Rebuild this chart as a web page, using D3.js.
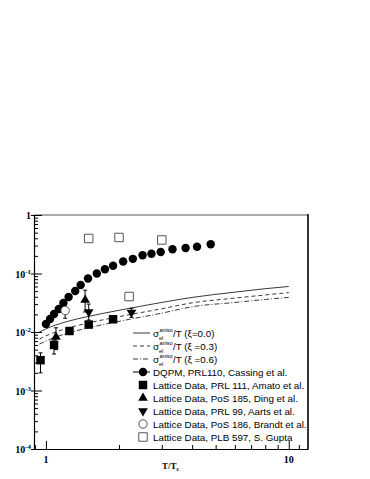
<!DOCTYPE html>
<html>
<head>
<meta charset="utf-8">
<script src="https://cdn.jsdelivr.net/npm/d3@7"></script>
<style>
  body { margin: 0; background: #fff; }
  .tick line { stroke: #000; }
  .axis path { stroke: #000; }
</style>
</head>
<body>
<div class="chart"></div>
<script>
// theory curves sigma_el^aniso / T
const curveT = [0.94, 1.0, 1.2, 1.5, 2.0, 3.0, 4.0, 6.0, 8.0, 10.0];
const xi00 = [0.0100, 0.0113, 0.0148, 0.0185, 0.0235, 0.0320, 0.0390, 0.0480, 0.0550, 0.0600];
const xi03 = [0.0076, 0.0086, 0.0113, 0.0143, 0.0183, 0.0250, 0.0315, 0.0380, 0.0430, 0.0470];
const xi06 = [0.0062, 0.0070, 0.0093, 0.0118, 0.0152, 0.0210, 0.0270, 0.0320, 0.0360, 0.0390];

// DQPM, Cassing et al.
const dqpmT = [1.00, 1.04, 1.08, 1.13, 1.18, 1.24, 1.32, 1.39, 1.49, 1.62, 1.75,
               1.89, 2.08, 2.28, 2.50, 2.72, 2.97, 3.32, 3.76, 4.19, 4.77];
const dqpmS = [0.0137, 0.0167, 0.0203, 0.0247, 0.0313, 0.0397, 0.0502, 0.0636, 0.0822, 0.100, 0.118,
               0.136, 0.160, 0.178, 0.205, 0.218, 0.233, 0.259, 0.273, 0.287, 0.316];

// lattice data
const amatoT = [0.95, 1.08, 1.25, 1.50, 1.89];
const amatoS = [0.0033, 0.0060, 0.0104, 0.0134, 0.0165];
const amatoLo = [0.0020, 0.0042, 0.0095, 0.0124, 0.0153];
const amatoHi = [0.0044, 0.0073, 0.0113, 0.0145, 0.0178];

const dingT = [1.10, 1.45];
const dingS = [0.0082, 0.0352];
const dingLo = [0.0050, 0.0220];
const dingHi = [0.0118, 0.0520];

const aartsT = [1.50, 2.25];
const aartsS = [0.0220, 0.0215];
const aartsLo = [0.0160, 0.0178];
const aartsHi = [0.0300, 0.0255];

const brandtT = [1.20];
const brandtS = [0.0233];
const brandtLo = [0.0172];
const brandtHi = [0.0233];

const guptaT = [1.50, 2.00, 2.20, 3.00];
const guptaS = [0.397, 0.413, 0.0404, 0.374];
const guptaLo = [0.397, 0.413, 0.0345, 0.374];
const guptaHi = [0.397, 0.413, 0.0404, 0.374];

const yMajor = [1e-4, 1e-3, 1e-2, 1e-1, 1];
const yLabels = [["10", "-4"], ["10", "-3"], ["10", "-2"], ["10", "-1"], ["1", ""]];
const xMajor = [1, 10];
const xLabels = ["1", "10"];

const legendText = [
  "DQPM, PRL110, Cassing et al.",
  "Lattice Data, PRL 111, Amato et al.",
  "Lattice Data, PoS 185, Ding et al.",
  "Lattice Data, PRL 99, Aarts et al.",
  "Lattice Data, PoS 186, Brandt et al.",
  "Lattice Data, PLB 597, S. Gupta"
];
const curveLegend = ["/T (\u03BE=0.0)", "/T (\u03BE =0.3)", "/T (\u03BE =0.6)"];

const W = 370, H = 479;
const margin = { left: 34, right: 308, top: 215, bottom: 449 };

const svg = d3.select(".chart").append("svg")
    .attr("width", W)
    .attr("height", H);

const x = d3.scaleLog().domain([0.893, 12]).range([margin.left, margin.right]);
const y = d3.scaleLog().domain([1e-4, 1]).range([margin.bottom, margin.top]);

// frame (top and right)
svg.append("line").attr("x1", margin.left).attr("x2", margin.right)
    .attr("y1", margin.top).attr("y2", margin.top)
    .attr("stroke", "#aaa").attr("stroke-width", 2);
svg.append("line").attr("x1", margin.right).attr("x2", margin.right)
    .attr("y1", margin.top - 1).attr("y2", margin.bottom)
    .attr("stroke", "#333").attr("stroke-width", 2);

// minor tick values
const yMinor = [];
for (let e = -4; e < 0; e++) for (let m = 2; m <= 9; m++) yMinor.push(m * Math.pow(10, e));
const xMinor = [0.9];
for (let m = 2; m <= 9; m++) xMinor.push(m);
xMinor.push(11);

// left axis, ticks pointing inside
svg.append("g")
    .attr("class", "axis y-axis")
    .attr("transform", `translate(${margin.left},0)`)
    .call(d3.axisRight(y).tickValues(yMinor).tickSize(4).tickSizeOuter(0).tickFormat(""));
svg.append("g")
    .attr("transform", `translate(${margin.left},0)`)
    .call(d3.axisRight(y).tickValues(yMajor).tickSize(8).tickSizeOuter(0).tickFormat(""))
    .call(g => g.select(".domain").remove());
svg.append("g")
    .attr("transform", `translate(${margin.left},0)`)
    .call(d3.axisLeft(y).tickValues(yMajor).tickSize(3).tickSizeOuter(0).tickFormat(""))
    .call(g => g.select(".domain").remove());

// bottom axis, ticks pointing up
svg.append("g")
    .attr("class", "axis x-axis")
    .attr("transform", `translate(0,${margin.bottom})`)
    .call(d3.axisTop(x).tickValues(xMinor).tickSize(4).tickSizeOuter(0).tickFormat(""));
svg.append("g")
    .attr("transform", `translate(0,${margin.bottom})`)
    .call(d3.axisTop(x).tickValues(xMajor).tickSize(8).tickSizeOuter(0).tickFormat(""))
    .call(g => g.select(".domain").remove());

svg.selectAll(".domain").attr("stroke", "#000").attr("stroke-width", 1.2);

// tick labels
const serif = "'Liberation Serif', 'DejaVu Serif', serif";
const yl = svg.append("g").attr("font-family", serif).attr("font-weight", "bold").attr("font-size", 10);
yMajor.forEach((v, i) => {
  const t = yl.append("text")
      .attr("x", margin.left - 3)
      .attr("y", y(v) + 4)
      .attr("text-anchor", "end");
  t.append("tspan").text(yLabels[i][0]);
  if (yLabels[i][1]) {
    t.append("tspan").attr("dy", -4).attr("font-size", 7).text(yLabels[i][1]);
  }
});
svg.append("g").attr("font-family", serif).attr("font-weight", "bold").attr("font-size", 10)
  .selectAll("text").data(xMajor).join("text")
    .attr("x", d => x(d))
    .attr("y", margin.bottom + 14)
    .attr("text-anchor", "middle")
    .text((d, i) => xLabels[i]);

// axis title
const xt = svg.append("text")
    .attr("x", 162).attr("y", 469)
    .attr("font-family", serif).attr("font-weight", "bold").attr("font-size", 9);
xt.append("tspan").text("T/T");
xt.append("tspan").attr("dy", 2).attr("font-size", 6).text("c");

// theory curves
const line = d3.line().x(d => x(d[0])).y(d => y(d[1])).curve(d3.curveMonotoneX);
const curveDefs = [
  { v: xi00, dash: null },
  { v: xi03, dash: "4,3" },
  { v: xi06, dash: "5,2,1,2" }
];
curveDefs.forEach(c => {
  svg.append("path")
      .datum(curveT.map((t, i) => [t, c.v[i]]))
      .attr("fill", "none")
      .attr("stroke", "#222")
      .attr("stroke-width", 0.9)
      .attr("stroke-dasharray", c.dash)
      .attr("d", line);
});

// error bars
function errBars(T, lo, hi, color) {
  const g = svg.append("g").attr("stroke", color || "#000").attr("stroke-width", 1);
  T.forEach((t, i) => {
    if (lo[i] === hi[i]) return;
    g.append("line").attr("x1", x(t)).attr("x2", x(t)).attr("y1", y(lo[i])).attr("y2", y(hi[i]));
    g.append("line").attr("x1", x(t) - 2).attr("x2", x(t) + 2).attr("y1", y(lo[i])).attr("y2", y(lo[i]));
    g.append("line").attr("x1", x(t) - 2).attr("x2", x(t) + 2).attr("y1", y(hi[i])).attr("y2", y(hi[i]));
  });
}
errBars(amatoT, amatoLo, amatoHi);
errBars(dingT, dingLo, dingHi);
errBars(aartsT, aartsLo, aartsHi);
errBars(brandtT, brandtLo, brandtHi);
errBars(guptaT, guptaLo, guptaHi, "#2a3fd0");

const sym = {
  circle: d3.symbol().type(d3.symbolCircle).size(56)(),
  square: d3.symbol().type(d3.symbolSquare).size(72)(),
  tri: d3.symbol().type(d3.symbolTriangle).size(40)()
};

function markers(T, S, path, fill, stroke, rot) {
  svg.append("g").selectAll("path").data(T).join("path")
      .attr("d", path)
      .attr("transform", (d, i) => `translate(${x(d)},${y(S[i])})` + (rot ? " rotate(180)" : ""))
      .attr("fill", fill)
      .attr("stroke", stroke)
      .attr("stroke-width", 1);
}
markers(guptaT, guptaS, sym.square, "#fff", "#555");
markers(dqpmT, dqpmS, sym.circle, "#000", "none");
markers(amatoT, amatoS, sym.square, "#000", "none");
markers(dingT, dingS, sym.tri, "#000", "none");
markers(aartsT, aartsS, sym.tri, "#000", "none", true);
markers(brandtT, brandtS, sym.circle, "#fff", "#555");

// legend
const sans = "'Liberation Sans', Arial, sans-serif";
const lg = svg.append("g").attr("font-family", sans).attr("font-size", 9.8).attr("fill", "#000");
const row0 = 333, step = 13, lx0 = 133, lx1 = 150, mx = 143, tx = 153;
curveDefs.forEach((c, i) => {
  const yy = row0 + i * step;
  lg.append("line").attr("x1", lx0).attr("x2", lx1).attr("y1", yy).attr("y2", yy)
      .attr("stroke", "#222").attr("stroke-width", 0.9).attr("stroke-dasharray", c.dash);
  lg.append("text").attr("x", tx).attr("y", yy + 3.5).text("\u03C3");
  lg.append("text").attr("x", tx + 6.5).attr("y", yy - 1.5).attr("font-size", 5.5).text("aniso");
  lg.append("text").attr("x", tx + 6).attr("y", yy + 6.5).attr("font-size", 5.5).text("el");
  lg.append("text").attr("x", tx + 20).attr("y", yy + 3.5).text(curveLegend[i]);
});
const legMarks = [
  { p: sym.circle, f: "#000", s: "none" },
  { p: sym.square, f: "#000", s: "none" },
  { p: sym.tri, f: "#000", s: "none" },
  { p: sym.tri, f: "#000", s: "none", rot: true },
  { p: sym.circle, f: "#fff", s: "#555" },
  { p: sym.square, f: "#fff", s: "#555" }
];
legendText.forEach((txt, i) => {
  const yy = row0 + (i + 3) * step;
  if (i === 0) {
    lg.append("line").attr("x1", lx0).attr("x2", lx1).attr("y1", yy).attr("y2", yy)
        .attr("stroke", "#000").attr("stroke-width", 1);
  }
  const m = legMarks[i];
  lg.append("path").attr("d", m.p)
      .attr("transform", `translate(${mx},${yy})` + (m.rot ? " rotate(180)" : ""))
      .attr("fill", m.f).attr("stroke", m.s);
  lg.append("text").attr("x", tx).attr("y", yy + 3.5).text(txt);
});
</script>
</body>
</html>
